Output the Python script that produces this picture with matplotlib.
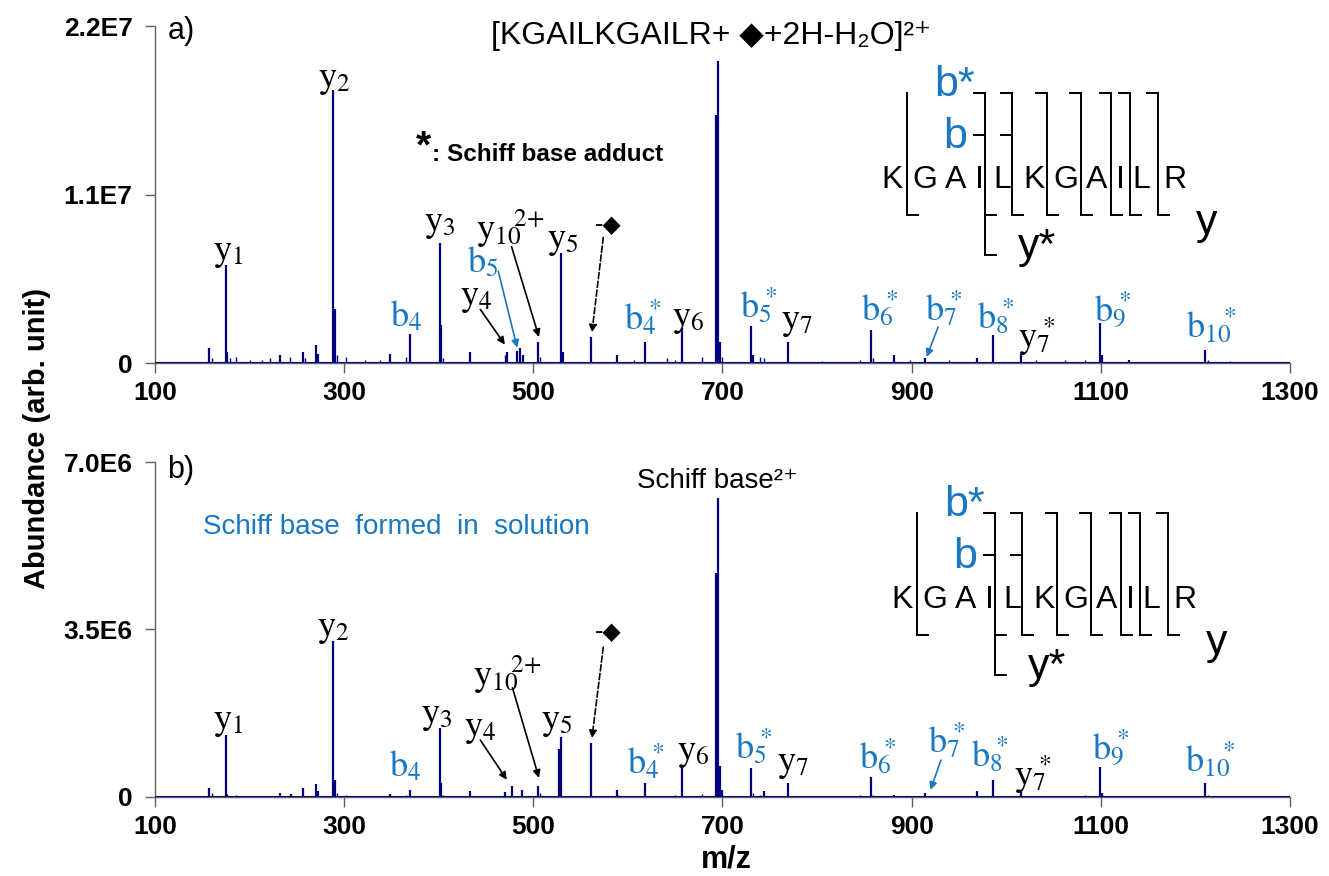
import matplotlib
matplotlib.use('Agg')
import matplotlib.pyplot as plt
from matplotlib.lines import Line2D

plt.rcParams['font.family'] = ['Liberation Sans', 'DejaVu Sans']
plt.rcParams['mathtext.fontset'] = 'stix'

NAVY = '#000080'
BLUE = '#1a78c2'
GREY = '#606060'

# ---- data: panel a, Schiff base adduct (abundance in counts) ----
mz_a = [157, 175, 176, 232, 256, 270, 272, 288, 290, 348, 370, 401, 402,
        433, 472, 483, 486, 489, 505, 529, 531, 561, 589, 618, 657, 693,
        695, 697, 730, 732, 769, 857, 881, 914, 969, 986, 1016, 1099, 1101,
        1130, 1210]
int_a = [0.10, 0.64, 0.07, 0.05, 0.07, 0.12, 0.06, 1.78, 0.35, 0.06, 0.19,
         0.785, 0.25, 0.07, 0.074, 0.08, 0.10, 0.05, 0.137, 0.72, 0.07,
         0.172, 0.05, 0.139, 0.228, 1.62, 1.97, 0.14, 0.24, 0.05, 0.139,
         0.215, 0.05, 0.03, 0.03, 0.183, 0.06, 0.26, 0.05, 0.02, 0.085]
int_a = [v * 1e7 for v in int_a]
noise_mz_a = [160, 179, 186, 200, 213, 222, 243, 259, 292, 302, 322, 338,
              365, 405, 470, 507, 606, 641, 650, 678, 700, 740, 744, 805,
              845, 859, 898, 940, 1032, 1062, 1083, 1213, 1237]
noise_int_a = [0.03, 0.03, 0.04, 0.02, 0.02, 0.03, 0.04, 0.03, 0.05, 0.04,
               0.02, 0.02, 0.04, 0.03, 0.05, 0.04, 0.02, 0.03, 0.02, 0.04,
               0.04, 0.04, 0.03, 0.01, 0.02, 0.03, 0.02, 0.02, 0.02, 0.02,
               0.02, 0.02, 0.01]
noise_int_a = [v * 1e7 for v in noise_int_a]

# ---- data: panel b, Schiff base formed in solution ----
mz_b = [157, 175, 232, 244, 257, 270, 272, 288, 290, 348, 370, 401, 402,
        433, 470, 477, 488, 505, 527, 529, 561, 588, 618, 657, 693, 695,
        697, 700, 730, 744, 769, 857, 881, 914, 969, 986, 1016, 1099, 1101,
        1210]
int_b = [0.19, 1.30, 0.08, 0.06, 0.19, 0.27, 0.12, 3.26, 0.35, 0.07, 0.15,
         1.45, 0.30, 0.12, 0.10, 0.23, 0.15, 0.23, 1.00, 1.25, 1.13, 0.15,
         0.29, 0.63, 4.68, 6.25, 0.65, 0.15, 0.60, 0.12, 0.30, 0.42, 0.05,
         0.08, 0.12, 0.36, 0.10, 0.63, 0.08, 0.30]
int_b = [v * 1e6 for v in int_b]
noise_mz_b = [160, 176, 186, 210, 292, 302, 322, 365, 405, 507, 590, 650,
              678, 732, 740, 805, 845, 859, 940, 1032, 1083, 1131, 1213]
noise_int_b = [0.08, 0.06, 0.04, 0.03, 0.08, 0.05, 0.03, 0.05, 0.04, 0.08,
               0.05, 0.05, 0.06, 0.08, 0.05, 0.03, 0.04, 0.05, 0.03, 0.03,
               0.04, 0.03, 0.04]
noise_int_b = [v * 1e6 for v in noise_int_b]

xticks = [100, 300, 500, 700, 900, 1100, 1300]
yticks_a = [0, 1.1e7, 2.2e7]
ylabels_a = ['0', '1.1E7', '2.2E7']
yticks_b = [0, 3.5e6, 7.0e6]
ylabels_b = ['0', '3.5E6', '7.0E6']

# fragment labels: (text, colour, m/z, abundance)
labels_a = [
    (r'$\mathrm{y}_1$', 'k', 177, 0.72e7), (r'$\mathrm{y}_2$', 'k', 290, 1.85e7),
    (r'$\mathrm{b}_4$', 'b', 366, 0.30e7), (r'$\mathrm{y}_3$', 'k', 401, 0.91e7),
    (r'$\mathrm{y}_4$', 'k', 440, 0.43e7), (r'$\mathrm{b}_5$', 'b', 447, 0.655e7),
    (r'$\mathrm{y}_{10}\!\!{}^{2\!+}$', 'k', 476, 0.875e7), (r'$\mathrm{y}_5$', 'k', 531, 0.80e7),
    (r'$\mathrm{b}_4\!\!{}^{*}$', 'b', 616, 0.29e7), (r'$\mathrm{y}_6$', 'k', 664, 0.29e7),
    (r'$\mathrm{b}_5\!\!{}^{*}$', 'b', 738, 0.37e7), (r'$\mathrm{y}_7$', 'k', 779, 0.27e7),
    (r'$\mathrm{b}_6\!\!{}^{*}$', 'b', 866, 0.35e7), (r'$\mathrm{b}_7\!\!{}^{*}$', 'b', 934, 0.35e7),
    (r'$\mathrm{b}_8\!\!{}^{*}$', 'b', 989, 0.30e7), (r'$\mathrm{y}_7\!\!{}^{*}$', 'k', 1032, 0.17e7),
    (r'$\mathrm{b}_9\!\!{}^{*}$', 'b', 1113, 0.35e7), (r'$\mathrm{b}_{10}\!\!{}^{*}$', 'b', 1217, 0.24e7),
]
labels_b = [
    (r'$\mathrm{y}_1$', 'k', 177, 1.57e6), (r'$\mathrm{y}_2$', 'k', 289, 3.53e6),
    (r'$\mathrm{b}_4$', 'b', 365, 0.63e6), (r'$\mathrm{y}_3$', 'k', 398, 1.71e6),
    (r'$\mathrm{y}_4$', 'k', 444, 1.44e6),
    (r'$\mathrm{y}_{10}\!\!{}^{2\!+}$', 'k', 473, 2.55e6), (r'$\mathrm{y}_5$', 'k', 525, 1.57e6),
    (r'$\mathrm{b}_4\!\!{}^{*}$', 'b', 619, 0.71e6), (r'$\mathrm{y}_6$', 'k', 669, 0.92e6),
    (r'$\mathrm{b}_5\!\!{}^{*}$', 'b', 733, 1.04e6), (r'$\mathrm{y}_7$', 'k', 775, 0.71e6),
    (r'$\mathrm{b}_6\!\!{}^{*}$', 'b', 864, 0.84e6), (r'$\mathrm{b}_7\!\!{}^{*}$', 'b', 937, 1.15e6),
    (r'$\mathrm{b}_8\!\!{}^{*}$', 'b', 983, 0.88e6), (r'$\mathrm{y}_7\!\!{}^{*}$', 'k', 1028, 0.46e6),
    (r'$\mathrm{b}_9\!\!{}^{*}$', 'b', 1111, 1.04e6), (r'$\mathrm{b}_{10}\!\!{}^{*}$', 'b', 1216, 0.77e6),
]
# arrows: (colour, dashed, tail m/z, tail abundance, head m/z, head abundance)
arrows_a = [
    ('k', False, 444, 0.35e7, 470, 0.12e7),
    ('b', False, 463, 0.60e7, 483, 0.10e7),
    ('k', False, 477, 0.76e7, 506, 0.17e7),
    ('k', True, 574, 0.82e7, 562, 0.20e7),
    ('b', False, 928, 0.235e7, 916, 0.04e7),
]
arrows_b = [
    ('k', False, 444, 1.19e6, 472, 0.36e6),
    ('k', False, 478, 2.28e6, 506, 0.40e6),
    ('k', True, 574, 3.13e6, 562, 1.23e6),
    ('b', False, 931, 0.77e6, 920, 0.15e6),
]

SEQ = list('KGAILKGAILR')
seq_dx = [0, 33, 64, 88, 111, 142, 174, 205, 229, 250, 283]
cut_dx = [15, 93, 120, 155, 189, 219, 238, 266]
cut_bstar = [False, True, True, True, True, True, True, True]
cut_b = [False, True, True, False, False, False, False, False]
cut_ystar = [False, True, False, False, False, False, False, False]

fig = plt.figure(figsize=(13.29, 8.76), dpi=100)
ax1 = fig.add_axes([0.1166, 0.5856, 0.8540, 0.3847])
ax2 = fig.add_axes([0.1166, 0.0902, 0.8540, 0.3824])


def draw_panel(ax, mz, inten, nmz, nint, ytk, ylab, ymax, labels, arrows):
    ax.vlines(nmz, 0, nint, color=NAVY, lw=1.0)
    ax.vlines(mz, 0, inten, color=NAVY, lw=1.6)
    ax.axhline(0, color=NAVY, lw=1.5, zorder=3)
    ax.set_xlim(100, 1300)
    ax.set_ylim(0, ymax)
    ax.set_xticks(xticks)
    ax.set_xticklabels([str(t) for t in xticks], fontsize=19, fontweight='bold')
    ax.set_yticks(ytk)
    ax.set_yticklabels(ylab, fontsize=19, fontweight='bold')
    for s in ['top', 'right']:
        ax.spines[s].set_visible(False)
    for s in ['left', 'bottom']:
        ax.spines[s].set_color(GREY)
        ax.spines[s].set_linewidth(1.0)
    ax.tick_params(direction='out', length=7, width=1, color=GREY, pad=6)
    ax.tick_params(axis='y', pad=9)
    for txt, c, x, y in labels:
        ax.text(x, y, txt, color=BLUE if c == 'b' else 'k', fontsize=26,
                ha='center', va='center')
    for c, dashed, x0, y0, x1, y1 in arrows:
        col = BLUE if c == 'b' else 'k'
        ax.annotate('', xy=(x1, y1), xytext=(x0, y0),
                    arrowprops=dict(arrowstyle='-|>', color=col, lw=1.2,
                                    ls='--' if dashed else '-',
                                    mutation_scale=11, shrinkA=0, shrinkB=0))


draw_panel(ax1, mz_a, int_a, noise_mz_a, noise_int_a, yticks_a, ylabels_a,
           2.2e7, labels_a, arrows_a)
draw_panel(ax2, mz_b, int_b, noise_mz_b, noise_int_b, yticks_b, ylabels_b,
           7.0e6, labels_b, arrows_b)

ax1.text(579, 0.90e7, '-\u25c6', fontsize=17, ha='center', va='center',
         family='DejaVu Sans')
ax2.text(579, 3.45e6, '-\u25c6', fontsize=17, ha='center', va='center',
         family='DejaVu Sans')

ax1.text(0.011, 0.985, 'a)', transform=ax1.transAxes, fontsize=22,
         ha='left', va='center')
ax2.text(0.011, 0.975, 'b)', transform=ax2.transAxes, fontsize=22,
         ha='left', va='center')

ax1.text(688, 2.135e7, '[KGAILKGAILR+ \u25c6+2H-H\u2082O]\u00b2\u207a', fontsize=23,
         ha='center', va='center')
ax1.text(384, 1.41e7, '*', fontsize=28, fontweight='bold', ha='center', va='center')
ax1.text(393, 1.36e7, ': Schiff base adduct', fontsize=17.5, fontweight='bold',
         ha='left', va='center')
ax2.text(695, 6.6e6, 'Schiff base\u00b2\u207a', fontsize=20, ha='center', va='center')
ax2.text(151, 5.65e6, 'Schiff base  formed  in  solution', fontsize=20,
         color=BLUE, ha='left', va='center')

fig.text(726 / 1329, 1 - 860 / 876, 'm/z', fontsize=22, fontweight='bold',
         ha='center', va='center')
fig.text(0.028, 0.50, 'Abundance (arb. unit)', rotation=90, fontsize=21,
         fontweight='bold', ha='center', va='center')


def sequence_map(kx, ky):
    # kx, ky: pixel centre of the leading K, measured from the top-left corner
    tr = fig.dpi_scale_trans

    def P(dx, dy):
        return (kx + dx) / 100.0, (876 - (ky + dy)) / 100.0

    for ch, dx in zip(SEQ, seq_dx):
        x, y = P(dx, 0)
        fig.text(x, y, ch, transform=tr, fontsize=23, ha='center', va='center')
    for dx, bs, b, ys in zip(cut_dx, cut_bstar, cut_b, cut_ystar):
        bottom = 75 if ys else 35
        segs = [[(dx, -87), (dx, bottom)], [(dx, 35), (dx + 11, 35)]]
        if bs:
            segs.append([(dx - 11, -87), (dx, -87)])
        if b:
            segs.append([(dx - 11, -45), (dx, -45)])
        if ys:
            segs.append([(dx, 75), (dx + 11, 75)])
        for (xa, ya), (xb, yb) in segs:
            p0, p1 = P(xa, ya), P(xb, yb)
            fig.add_artist(Line2D([p0[0], p1[0]], [p0[1], p1[1]], transform=tr,
                                  color='k', lw=1.4))
    for txt, col, dx, dy in [('b*', BLUE, 63, -95), ('b', BLUE, 63, -43),
                             ('y*', 'k', 145, 67), ('y', 'k', 315, 43)]:
        x, y = P(dx, dy)
        fig.text(x, y, txt, transform=tr, fontsize=31, color=col,
                 ha='center', va='center')


sequence_map(891.7, 180)
sequence_map(901.7, 600)

fig.savefig('out.png', dpi=100)
